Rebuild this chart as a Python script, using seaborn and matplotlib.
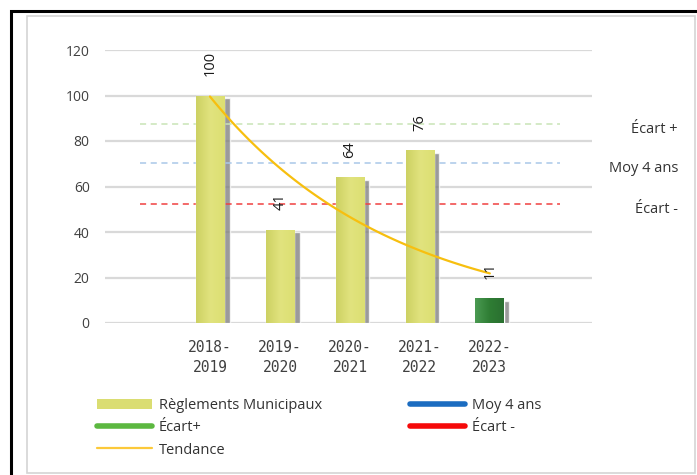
from __future__ import annotations

import matplotlib

matplotlib.use("Agg")

import matplotlib.pyplot as plt
import numpy as np
import pandas as pd
import seaborn as sns
from matplotlib.colors import LinearSegmentedColormap
from matplotlib.lines import Line2D
from matplotlib.patches import Patch, Rectangle
from matplotlib.transforms import blended_transform_factory

# values
SEASONS = ["2018-\n2019", "2019-\n2020", "2020-\n2021", "2021-\n2022", "2022-\n2023"]
REGLEMENTS = [100, 41, 64, 76, 11]
ECART_PLUS = 87.5
MOY_4_ANS = 70.25
ECART_MINUS = 52.5
BAR_COLORS = ["#dadd72", "#dadd72", "#dadd72", "#dadd72", "#2f7d34"]

W, H = 697, 475
FONT = ["Open Sans", "DejaVu Sans"]


def px(x: float, y: float) -> tuple[float, float]:
    return x / W, 1 - y / H


def draw_frames(fig) -> None:
    fig.patches.append(Rectangle(px(11, 500), (W + 20) / W, 489 / H, transform=fig.transFigure,
                                 fill=False, edgecolor="black", linewidth=2.2))
    fig.patches.append(Rectangle(px(27, 473), 668 / W, 457 / H, transform=fig.transFigure,
                                 fill=False, edgecolor="#d4d4d4", linewidth=1.2))


def draw_bars(ax, df: pd.DataFrame) -> None:
    x = np.arange(len(df))
    ax.bar(x + 0.075, df["value"] - 1.2, width=0.41, color="#7a7a7a", alpha=0.75, zorder=1)
    sns.barplot(data=df, x="season", y="value", hue="season", palette=BAR_COLORS,
                width=0.41, legend=False, saturation=1, ax=ax, zorder=2)

    yellow = LinearSegmentedColormap.from_list("y", ["#cdd163", "#e1e37e", "#dcdf72"])
    green = LinearSegmentedColormap.from_list("g", ["#4b9a52", "#2f7d34", "#2a7030"])
    grad = np.linspace(0, 1, 64).reshape(1, -1)
    for patch, color in zip(ax.patches[len(df):], BAR_COLORS):
        bx, by = patch.get_x(), patch.get_y()
        bw, bh = patch.get_width(), patch.get_height()
        cmap = green if color == "#2f7d34" else yellow
        img = ax.imshow(grad, extent=[bx, bx + bw, by, by + bh], aspect="auto",
                        cmap=cmap, zorder=2.5, interpolation="bicubic")
        img.set_clip_path(patch)

    for i, v in enumerate(df["value"]):
        ax.annotate(str(v), (i, v), xytext=(0, 14), textcoords="offset points",
                    rotation=90, ha="center", va="bottom", fontsize=10.5,
                    color="#1a1a1a", family=FONT, zorder=5)


def draw_lines(ax, fig, df: pd.DataFrame) -> None:
    for val, color in [(ECART_PLUS, "#c9e4b6"), (MOY_4_ANS, "#a9c8e8"), (ECART_MINUS, "#f04040")]:
        ax.hlines(val, -1, 5, colors=color, linestyles=(0, (4, 3)), linewidth=1.1, zorder=1.5)

    # exponential trend line (as a spreadsheet trendline)
    x = np.arange(len(df))
    b, a = np.polyfit(x, np.log(df["value"]), 1)
    xs = np.linspace(0, len(df) - 1, 100)
    ax.plot(xs, np.exp(a + b * xs), color="#f7bf0f", linewidth=1.6, zorder=4)

    trans = blended_transform_factory(fig.transFigure, ax.transData)
    for label, val in [("Écart +", ECART_PLUS), ("Moy 4 ans", MOY_4_ANS), ("Écart -", ECART_MINUS)]:
        ax.text(678 / W, val - 2.5, label, transform=trans, ha="right", va="center",
                fontsize=10.5, color="#333333", family=FONT)


def draw_legend(fig) -> None:
    bar = Patch(facecolor="#dadd72", edgecolor="none")
    green = Line2D([], [], color="#5cb840", linewidth=4, solid_capstyle="round")
    trend = Line2D([], [], color="#fcc93a", linewidth=1.6)
    blue = Line2D([], [], color="#1b6cc0", linewidth=4, solid_capstyle="round")
    red = Line2D([], [], color="#f50a0a", linewidth=4, solid_capstyle="round")

    opts = dict(loc="upper left", frameon=False, handlelength=3.8, handletextpad=0.45,
                labelspacing=0.5, borderaxespad=0, borderpad=0,
                prop={"family": FONT, "size": 10.5}, labelcolor="#333333")
    fig.legend([bar, green, trend], ["Règlements Municipaux", "Écart+", "Tendance"],
               bbox_to_anchor=px(97, 398), **opts)
    fig.legend([blue, red], ["Moy 4 ans", "Écart -"], bbox_to_anchor=px(410, 398), **opts)


def main() -> None:
    sns.set_theme(style="white")
    plt.rcParams["font.family"] = FONT
    df = pd.DataFrame({"season": SEASONS, "value": REGLEMENTS})

    fig = plt.figure(figsize=(W / 100, H / 100), dpi=100)
    fig.patch.set_facecolor("white")
    x0, y0 = px(105, 323)
    ax = fig.add_axes([x0, y0, (592 - 105) / W, (323 - 50) / H])

    draw_bars(ax, df)
    draw_lines(ax, fig, df)

    ax.set_xlim(-1.5, 5.46)
    ax.set_ylim(0, 120)
    ax.set_yticks(range(0, 121, 20))
    ax.yaxis.grid(True, color="#d9d9d9", linewidth=1.6)
    ax.set_axisbelow(True)
    for s in ax.spines.values():
        s.set_visible(False)
    ax.tick_params(axis="y", length=0, pad=11, labelsize=10, labelcolor="#404040")
    ax.tick_params(axis="x", length=0, pad=12, labelsize=10.5, labelcolor="#404040")
    ax.set_xticks(range(len(SEASONS)))
    ax.set_xticklabels(SEASONS, family="DejaVu Sans Mono", linespacing=1.45)
    ax.set_xlabel("")
    ax.set_ylabel("")

    draw_legend(fig)
    draw_frames(fig)
    fig.savefig("out.png", dpi=100)
    plt.close(fig)


if __name__ == "__main__":
    main()
